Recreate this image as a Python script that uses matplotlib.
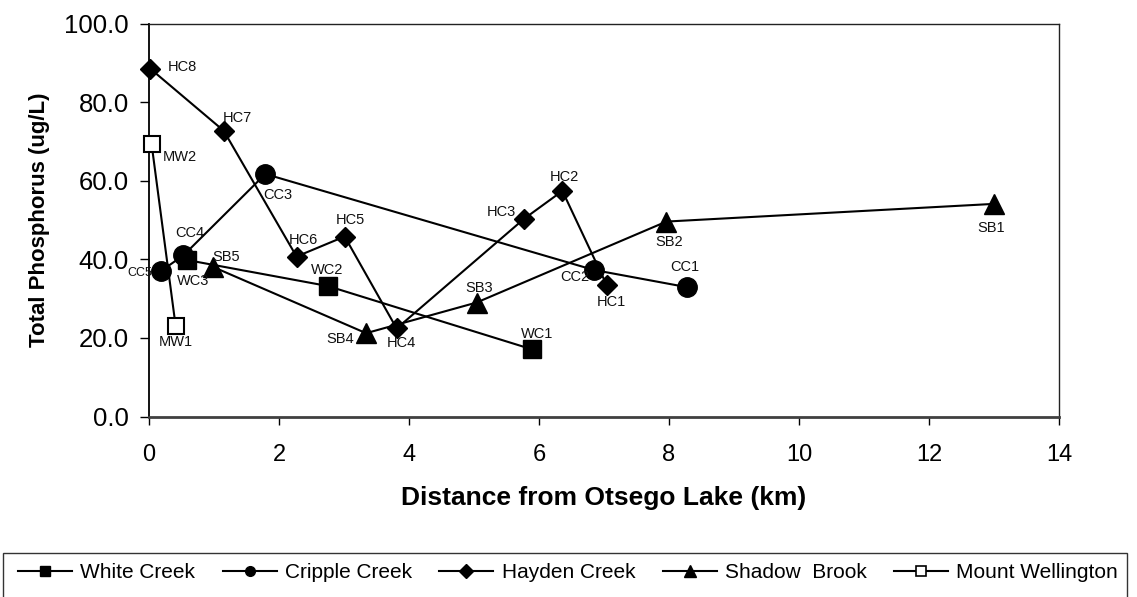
import matplotlib
matplotlib.use("Agg")
import matplotlib.pyplot as plt
from matplotlib.lines import Line2D
from matplotlib.patches import Rectangle

plt.rcParams['font.family'] = ['Liberation Sans', 'DejaVu Sans']

# distance from Otsego Lake (km) and total phosphorus (ug/L)
wc_names = ["WC3", "WC2", "WC1"]
wc_x = [0.59, 2.75, 5.89]
wc_y = [39.8, 33.2, 17.1]

cc_names = ["CC5", "CC4", "CC3", "CC2", "CC1"]
cc_x = [0.19, 0.53, 1.79, 6.84, 8.28]
cc_y = [37.1, 41.0, 61.7, 37.3, 32.9]

hc_names = ["HC8", "HC7", "HC6", "HC5", "HC4", "HC3", "HC2", "HC1"]
hc_x = [0.02, 1.15, 2.27, 3.01, 3.81, 5.77, 6.36, 7.04]
hc_y = [88.5, 72.7, 40.7, 45.8, 22.4, 50.3, 57.4, 33.5]

sb_names = ["SB5", "SB4", "SB3", "SB2", "SB1"]
sb_x = [0.98, 3.34, 5.04, 7.96, 13.0]
sb_y = [38.1, 21.2, 29.0, 49.6, 54.1]

mw_names = ["MW2", "MW1"]
mw_x = [0.04, 0.41]
mw_y = [69.3, 23.0]

series_names = ["White Creek", "Cripple Creek", "Hayden Creek", "Shadow  Brook", "Mount Wellington"]

# label placement (pixels from marker centre, y up) and alignment
label_pos = {
    "HC8": (17, 2, "left"), "HC7": (14, 13, "center"), "HC6": (7, 17, "center"),
    "HC5": (6, 17, "center"), "HC4": (5, -15, "center"), "HC3": (-8, 7, "right"),
    "HC2": (2, 14, "center"), "HC1": (5, -17, "center"),
    "CC5": (-9.5, -2, "right"), "CC4": (6, 22, "center"), "CC3": (-2, -21, "left"),
    "CC2": (-4, -7, "right"), "CC1": (-2, 20, "center"),
    "WC3": (6, -21, "center"), "WC2": (-1, 16, "center"), "WC1": (5, 15, "center"),
    "SB5": (0, 10, "left"), "SB4": (-12, -6, "right"), "SB3": (3, 15, "center"),
    "SB2": (3, -20, "center"), "SB1": (-3, -24, "center"),
    "MW2": (11, -13, "left"), "MW1": (0, -16, "center"),
}

fig = plt.figure(figsize=(11.37, 5.97), dpi=100)
ax = fig.add_axes([149 / 1137, 1 - 416.5 / 597, 910 / 1137, 393 / 597])

styles = [
    dict(marker="s", ms=13.5, mfc="black", mec="black"),
    dict(marker="o", ms=14, mfc="black", mec="black"),
    dict(marker="D", ms=10.5, mfc="black", mec="black"),
    dict(marker="^", ms=15, mfc="black", mec="black"),
    dict(marker="s", ms=12, mfc="white", mec="black", mew=1.5),
]
data = [
    (wc_x, wc_y, wc_names),
    (cc_x, cc_y, cc_names),
    (hc_x, hc_y, hc_names),
    (sb_x, sb_y, sb_names),
    (mw_x, mw_y, mw_names),
]

for (xs, ys, names), st in zip(data, styles):
    ax.plot(xs, ys, color="black", lw=1.5, clip_on=False, zorder=3, **st)
    for x, y, n in zip(xs, ys, names):
        dx, dy, ha = label_pos[n]
        fs = 9 if n == "CC5" else 10.5  # squeezed next to the y tick labels
        ax.annotate(n, (x, y), xytext=(dx * 0.72, dy * 0.72), textcoords="offset points",
                    ha=ha, va="center", fontsize=fs, color="#111111", zorder=5)

ax.set_xlim(0, 14)
ax.set_ylim(0, 100)
ax.set_xticks(range(0, 15, 2))
ax.set_yticks(range(0, 101, 20))
ax.set_yticklabels([f"{v:.1f}" for v in range(0, 101, 20)])
ax.tick_params(axis="y", direction="out", length=6.5, width=1, labelsize=18.5, pad=8)
ax.tick_params(axis="x", direction="out", length=6, width=1, labelsize=17, pad=14)

for side in ["top", "right"]:
    ax.spines[side].set_linewidth(1)
    ax.spines[side].set_color("#222222")
ax.spines["left"].set_linewidth(1.3)
ax.spines["left"].set_color("black")
ax.spines["bottom"].set_linewidth(2)
ax.spines["bottom"].set_color("#404040")

ax.set_xlabel("Distance from Otsego Lake (km)", fontsize=19, fontweight="bold", va="center")
ax.xaxis.set_label_coords(0.5, (416.5 - 498) / 393)
ax.set_ylabel("Total Phosphorus (ug/L)", fontsize=16, fontweight="bold", va="center", ha="center")
ax.yaxis.set_label_coords((40 - 149) / 910, 0.5)

# legend
leg_sizes = [7, 7, 7, 8, 6.5]
handles = []
for st, s in zip(styles, leg_sizes):
    st2 = dict(st)
    st2["ms"] = s
    if st2.get("mew"):
        st2["mew"] = 1.2
    handles.append(Line2D([], [], color="black", lw=1.5, **st2))

fig.legend(handles, series_names, loc="center left", bbox_to_anchor=(18 / 1137, 1 - 573 / 597),
           ncol=5, frameon=False, fontsize=15, handlelength=2.6, handletextpad=0.4,
           columnspacing=1.3, borderpad=0, borderaxespad=0)
fig.patches.append(Rectangle((3 / 1137, -0.05), 1124 / 1137, 0.05 + (597 - 553) / 597,
                             transform=fig.transFigure, fill=False, edgecolor="#333333", lw=1))

fig.savefig("out.png", dpi=100)
